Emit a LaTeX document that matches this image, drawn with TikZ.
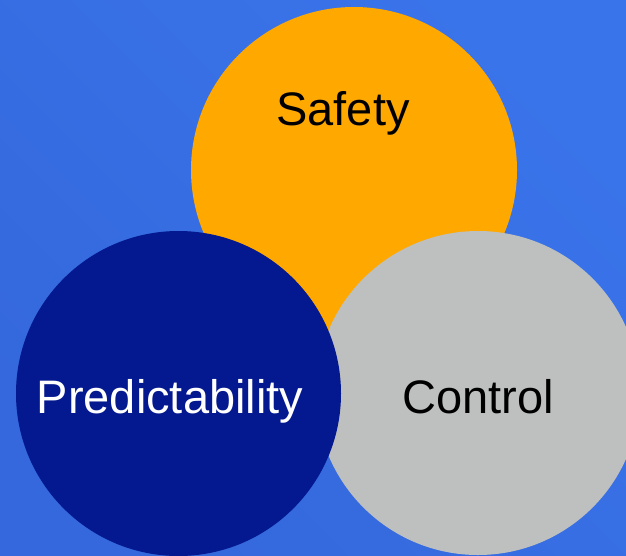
\documentclass[tikz,border=0pt]{standalone}
\usepackage{fontspec}
\setmainfont{Liberation Sans}
\definecolor{bgdark}{RGB}{58,116,234}
\definecolor{bglight}{RGB}{70,132,255}
\definecolor{bgdark2}{RGB}{52,104,220}
\definecolor{safetyc}{RGB}{255,168,0}
\definecolor{predc}{RGB}{4,24,143}
\definecolor{controlc}{RGB}{190,192,192}
\tikzset{
  bubble/.style={circle, inner sep=0pt, minimum size=#1},
  lbl/.style={font=\fontsize{47}{50}\selectfont, inner sep=0pt, anchor=base}
}
\begin{document}
\begin{tikzpicture}[x=1pt,y=-1pt]
\useasboundingbox (0,0) rectangle (626,555);
\shade[shading=axis, top color=bgdark, middle color=bglight, bottom color=bgdark2, shading angle=-45] (0,0) rectangle (626,555);
\begin{scope}
\clip (0,0) rectangle (626,555);
\node[bubble=326pt, fill=safetyc] (safety) at (354,170) {};
\node[bubble=324pt, fill=controlc] (control) at (478,393) {};
\node[bubble=325pt, fill=predc] (pred) at (178.5,393.5) {};
\end{scope}
\node[lbl, text=black] (tsafety) at (343,125) {Safety};
\node[lbl, text=white] (tpred) at (170,413) {Predictability};
\node[lbl, text=black] (tcontrol) at (478,413) {Control};
\end{tikzpicture}
\end{document}
